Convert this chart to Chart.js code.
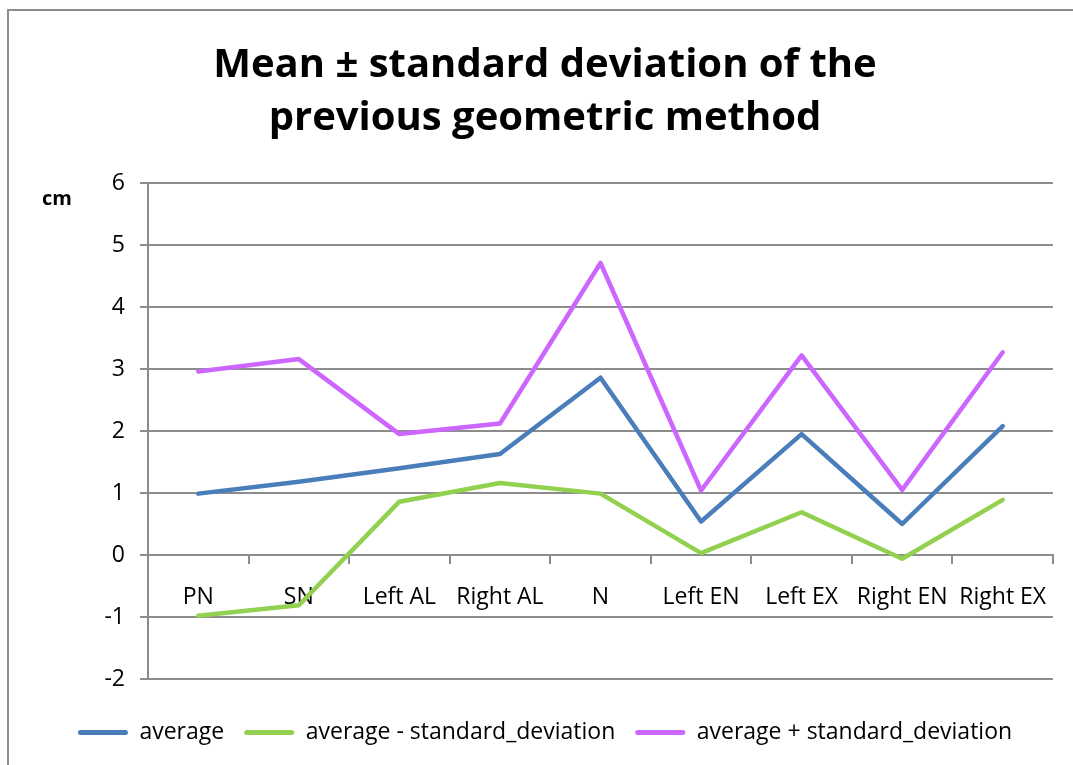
<!DOCTYPE html>
<html>
<head>
<meta charset="utf-8">
<script src="https://cdn.jsdelivr.net/npm/chart.js@4/dist/chart.umd.min.js"></script>
<style>
  html, body { margin: 0; padding: 0; background: #fff; }
  #wrap { position: absolute; left: 0; top: 0; width: 1073px; height: 765px; }
</style>
</head>
<body>
<div id="wrap"><canvas id="myChart" width="1073" height="765"></canvas></div>
<script>
const categories = ["PN", "SN", "Left AL", "Right AL", "N", "Left EN", "Left EX", "Right EN", "Right EX"];
const averageValues = [0.99, 1.18, 1.40, 1.63, 2.86, 0.54, 1.95, 0.50, 2.08];
const minusSdValues = [-0.98, -0.81, 0.86, 1.16, 0.99, 0.03, 0.69, -0.06, 0.89];
const plusSdValues = [2.96, 3.16, 1.95, 2.12, 4.71, 1.04, 3.22, 1.05, 3.27];
const seriesNames = ["average", "average - standard_deviation", "average + standard_deviation"];
const seriesColors = ["#4a7ebb", "#92d050", "#cc66ff"];
const yTicks = [-2, -1, 0, 1, 2, 3, 4, 5, 6];

const fontName = "'Open Sans', sans-serif";
const gridColor = "#8c8c8c";

// frame of the chart plus the "cm" unit label
const extras = {
  id: "extras",
  afterDraw(chart) {
    const ctx = chart.ctx;
    ctx.save();
    ctx.strokeStyle = gridColor;
    ctx.lineWidth = 2;
    ctx.beginPath();
    ctx.moveTo(8, 765);
    ctx.lineTo(8, 10);
    ctx.lineTo(1073, 10);
    ctx.stroke();
    ctx.fillStyle = "#000";
    ctx.font = "bold 20px " + fontName;
    ctx.textAlign = "center";
    ctx.textBaseline = "middle";
    ctx.fillText("cm", 57, 199);
    ctx.restore();
  }
};

const makeSet = (i, values) => ({
  label: seriesNames[i],
  data: values,
  borderColor: seriesColors[i],
  backgroundColor: seriesColors[i],
  borderWidth: 4.5,
  borderCapStyle: "round",
  borderJoinStyle: "round",
  pointRadius: 0,
  tension: 0,
});

const ctx = document.getElementById("myChart").getContext("2d");
const myChart = new Chart(ctx, {
  type: "line",
  data: {
    labels: categories,
    datasets: [
      makeSet(0, averageValues),
      makeSet(1, minusSdValues),
      makeSet(2, plusSdValues),
    ],
  },
  options: {
    responsive: false,
    animation: false,
    layout: { padding: { left: 37, right: 20, top: 0, bottom: 11 } },
    plugins: {
      tooltip: { enabled: false },
      title: {
        display: true,
        text: ["Mean \u00b1 standard deviation of the", "previous geometric method"],
        color: "#000",
        font: { family: fontName, size: 40, weight: "bold", lineHeight: 1.325 },
        padding: { top: 39, bottom: 38 },
      },
      legend: {
        position: "bottom",
        title: { display: true, text: " ", font: { size: 2, lineHeight: 1 }, padding: { top: 20, bottom: 0 } },
        labels: {
          color: "#000",
          font: { family: fontName, size: 23 },
          boxWidth: 50,
          boxHeight: 5,
          padding: 20,
          useBorderRadius: true,
          borderRadius: 2.5,
          generateLabels(chart) {
            const items = Chart.defaults.plugins.legend.labels.generateLabels(chart);
            items.forEach((it) => {
              it.lineWidth = 0;
              it.fillStyle = seriesColors[it.datasetIndex];
            });
            return items;
          },
        },
      },
    },
    scales: {
      x: {
        position: { y: 0 },
        offset: true,
        grid: {
          offset: true,
          drawOnChartArea: false,
          tickLength: 8,
          color: gridColor,
          lineWidth: 2,
        },
        border: { color: gridColor, width: 2 },
        ticks: {
          color: "#000",
          font: { family: fontName, size: 23 },
          padding: 21,
          maxRotation: 0,
          autoSkip: false,
        },
      },
      y: {
        min: yTicks[0],
        max: yTicks[yTicks.length - 1],
        afterFit(scale) {
          scale.width = 111;
        },
        afterBuildTicks(scale) {
          scale.ticks = yTicks.map((v) => ({ value: v }));
        },
        grid: { color: gridColor, lineWidth: 2, tickLength: 8 },
        border: { color: gridColor, width: 2 },
        ticks: {
          color: "#000",
          font: { family: fontName, size: 23 },
          padding: 15,
        },
      },
    },
  },
  plugins: [extras],
});
</script>
</body>
</html>
